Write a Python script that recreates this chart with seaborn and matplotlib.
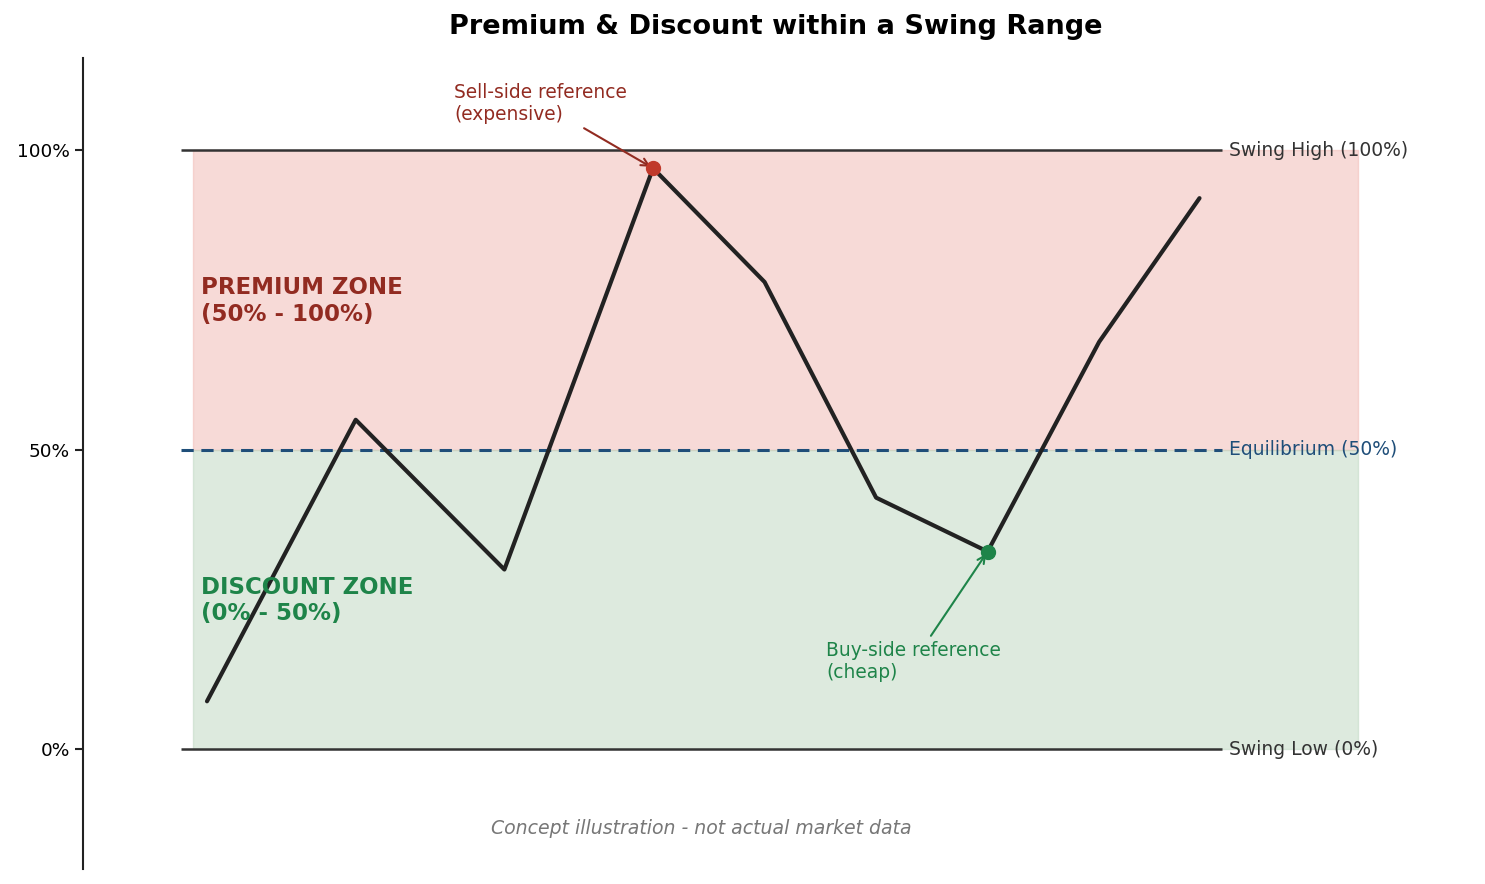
import numpy as np
import pandas as pd
import matplotlib
matplotlib.use("Agg")
import matplotlib.pyplot as plt
import seaborn as sns

# swing path (normalised position inside the range)
x_vals = [0, 4, 8, 12, 15, 18, 21, 24, 26.7]
price = [0.08, 0.55, 0.30, 0.97, 0.78, 0.42, 0.33, 0.68, 0.92]
sell_pt = (12, 0.97)
buy_pt = (21, 0.33)

levels = [1.0, 0.5, 0.0]
level_labels = ["Swing High (100%)", "Equilibrium (50%)", "Swing Low (0%)"]
ytick_vals = [0, 0.5, 1.0]
ytick_labels = ["0%", "50%", "100%"]

df = pd.DataFrame({"x": x_vals, "price": price})

sns.set_style("ticks")
plt.rcParams['font.family'] = ['DejaVu Sans']

fig = plt.figure(figsize=(14.85, 8.84), dpi=100)
ax = fig.add_axes([83 / 1485, 15 / 884, (1469 - 83) / 1485, (869 - 58) / 884])

x0, x1 = -0.7, 27.3
# zones
ax.fill_between([-0.38, 30.97], 0.5, 1.0, color="#f1b7b0", alpha=0.5, lw=1, zorder=0)
ax.fill_between([-0.38, 30.97], 0.0, 0.5, color="#bcd6bf", alpha=0.5, lw=1, zorder=0)

# levels
ax.hlines([1.0, 0.0], x0, x1, color="#333333", lw=1.8, zorder=2)
ax.hlines(0.5, x0, x1, color="#1f4e79", lw=2.2, linestyles=(0, (4, 2.5)), zorder=2)
lvl_colors = ["#333333", "#1f4e79", "#333333"]
for lv, lab, c in zip(levels, level_labels, lvl_colors):
    ax.text(x1 + 0.2, lv, lab, color=c, fontsize=13.5, va="center", ha="left")

sns.lineplot(data=df, x="x", y="price", color="#222222", lw=3, ax=ax, zorder=3)
ax.plot(*sell_pt, "o", color="#c0392b", ms=10, zorder=4)
ax.plot(*buy_pt, "o", color="#1e8449", ms=10, zorder=4)

ax.annotate("Sell-side reference\n(expensive)", xy=sell_pt, xytext=(6.65, 1.113),
            ha="left", va="top", fontsize=13.4, color="#922b21",
            arrowprops=dict(arrowstyle="->", color="#922b21", lw=1.5))
ax.annotate("Buy-side reference\n(cheap)", xy=buy_pt, xytext=(16.65, 0.18),
            ha="left", va="top", fontsize=13.4, color="#1e8449",
            arrowprops=dict(arrowstyle="->", color="#1e8449", lw=1.5))

ax.text(-0.16, 0.79, "PREMIUM ZONE\n(50% - 100%)", color="#922b21", fontsize=16.5,
        fontweight="bold", va="top", ha="left")
ax.text(-0.16, 0.29, "DISCOUNT ZONE\n(0% - 50%)", color="#1e8449", fontsize=16.5,
        fontweight="bold", va="top", ha="left")

ax.text((x0 + x1) / 2, -0.132, "Concept illustration - not actual market data",
        ha="center", va="center", fontsize=13.6, style="italic", color="#777777")

ax.set_xlim(-3.336, 33.95)
ax.set_ylim(-0.2, 1.154)
ax.set_yticks(ytick_vals)
ax.set_yticklabels(ytick_labels, fontsize=13.3, color="black")
ax.set_xticks([])
ax.set_xlabel("")
ax.set_ylabel("")
ax.tick_params(axis="y", length=6, width=1.5, color="#222222")
sns.despine(ax=ax, bottom=True)
ax.spines["left"].set_linewidth(1.5)
ax.spines["left"].set_color("#222222")

fig.suptitle("Premium & Discount within a Swing Range", fontsize=19.5, fontweight="bold",
             color="black", x=776 / 1485, y=1 - 27 / 884, va="center")

fig.savefig("out.png", dpi=100)
